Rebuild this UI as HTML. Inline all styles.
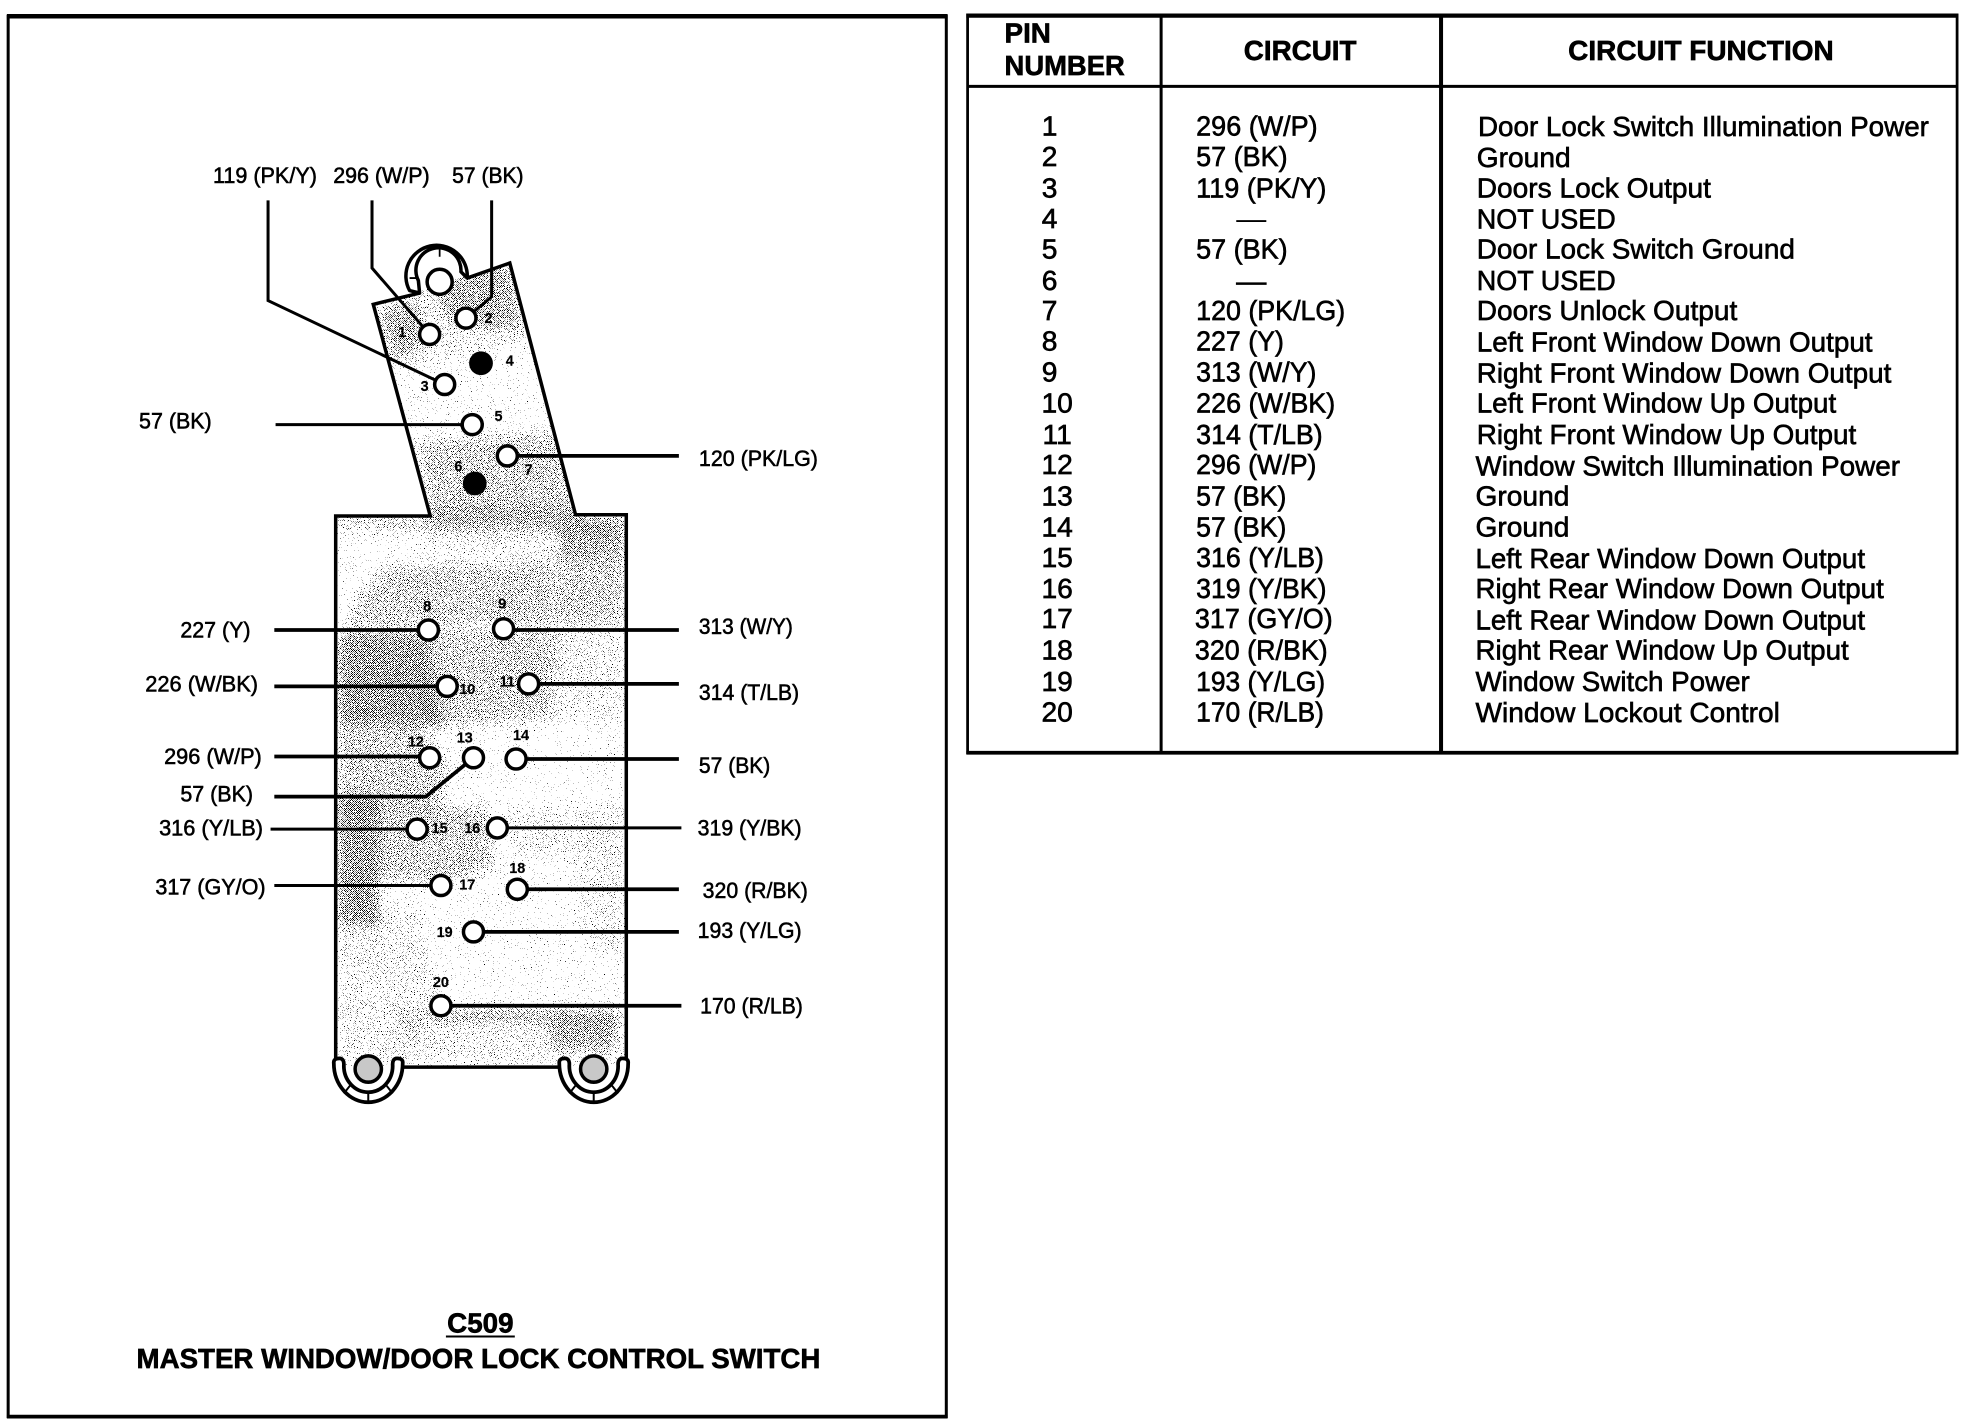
<!DOCTYPE html>
<html><head><meta charset="utf-8"><title>C509</title>
<style>
html,body{margin:0;padding:0;background:#fff;width:1964px;height:1424px;overflow:hidden}
svg{position:absolute;left:0;top:0}
text{font-family:"Liberation Sans",Arial,sans-serif;fill:#000;stroke:#000}
.t{font-size:22.5px;stroke-width:.5px}
.h{font-size:22px;font-weight:bold;stroke-width:.5px}
.l{font-size:18px;stroke-width:.45px}
.p{font-size:11.5px;font-weight:bold;stroke-width:.15px;text-anchor:middle}
.pin{fill:#fff;stroke:#000;stroke-width:2.8}
.w{fill:none;stroke:#000;stroke-width:3}
.n{fill:none;stroke:#000;stroke-width:2.4}
.a{fill-opacity:.11}.b{fill-opacity:.23}.c{fill-opacity:.38}
</style></head><body>
<svg width="1964" height="1424" viewBox="0 0 1964 1424">
<defs>
<pattern id="chk" width="2" height="2" patternUnits="userSpaceOnUse"><rect width="1" height="1" fill="#fff"/><rect x="1" y="1" width="1" height="1" fill="#fff"/></pattern>
<mask id="m" maskUnits="userSpaceOnUse" x="0" y="0" width="1964" height="1424"><rect width="1964" height="1424" fill="url(#chk)" shape-rendering="crispEdges"/></mask>
<clipPath id="body"><polygon points="373,305 510,263 575,515 627,515 627,1066 335,1066 335,516 430,516"/></clipPath>
<filter id="dither" filterUnits="userSpaceOnUse" x="250" y="200" width="460" height="950" color-interpolation-filters="sRGB">
<feGaussianBlur in="SourceAlpha" stdDeviation="6" result="dens"/>
<feTurbulence type="fractalNoise" baseFrequency="0.7" numOctaves="1" seed="7" result="tb"/>
<feColorMatrix in="tb" type="matrix" values="0 0 0 0 0 0 0 0 0 0 0 0 0 0 0 0 0 0 1 0" result="noise"/>
<feComposite in="dens" in2="noise" operator="arithmetic" k1="0" k2="1" k3="1" k4="-1" result="diff"/>
<feComponentTransfer in="diff"><feFuncA type="linear" slope="60" intercept="0"/></feComponentTransfer>
</filter>
</defs>
<g clip-path="url(#body)"><g mask="url(#m)"><g filter="url(#dither)">
<rect x="280" y="220" width="400" height="900" fill-opacity=".3"/>
<polygon class="a" points="375,306 510,263 530,345 440,360 390,370"/>
<polygon class="b" points="425,268 510,263 525,330 450,325"/>
<polygon class="b" points="378,310 420,300 425,345 392,360"/>
<polygon class="b" points="415,440 560,430 580,516 428,516"/>
<polygon class="b" points="335,516 627,516 627,530 335,530"/>
<polygon class="a" points="430,505 575,505 627,530 627,560 420,552"/>
<polygon class="b" points="558,525 625,525 625,625 558,625"/>
<polygon class="b" points="385,565 555,560 558,625 345,628 350,610"/>
<polygon class="c" points="338,632 425,632 440,725 338,725"/>
<polygon class="b" points="425,630 560,630 555,718 430,730"/>
<polygon class="a" points="560,630 625,630 625,720 560,720"/>
<polygon class="b" points="338,725 420,725 450,765 440,810 338,810"/>
<polygon class="c" points="338,800 378,800 380,925 338,925"/>
<polygon class="b" points="378,808 490,805 495,870 440,885 378,880"/>
<polygon class="a" points="500,810 625,805 620,840 520,860"/>
<polygon class="a" points="338,925 420,905 440,1000 400,1062 338,1062"/>
<polygon class="a" points="398,1008 620,1008 620,1062 398,1062"/>
<polygon class="b" points="430,1008 620,1008 620,1022 430,1022"/>
<polygon class="b" points="550,1020 618,1020 618,1050 550,1050"/>
<polygon class="a" points="570,850 625,830 625,960 590,950"/>
</g></g></g>
</svg>
<svg width="1964" height="1424" viewBox="0 0 1568 1136.9">
<!-- frames -->
<path d="M6.5,13 H755.5 V1131 H6.5 Z" fill="none" stroke="#000" stroke-width="2.4"/>
<path d="M5.5,13 H756.5" stroke="#000" stroke-width="3.6"/>
<path d="M5.5,1131 H756.5" stroke="#000" stroke-width="3"/>
<path d="M772.5,12 H1562.5 V601 H772.5 Z" fill="none" stroke="#000" stroke-width="2.2"/>
<path d="M771.5,12.5 H1563.5" stroke="#000" stroke-width="3.4"/>
<path d="M771.5,601 H1563.5" stroke="#000" stroke-width="3"/>
<path d="M772,69 H1562" stroke="#000" stroke-width="2.4"/>
<path d="M927,12 V601" stroke="#000" stroke-width="2.4"/>
<path d="M1150.5,12 V601" stroke="#000" stroke-width="3.2"/>

<!-- connector body -->
<path d="M335,234 L298,243 L343.5,412 H268 V848 M322,852 H449 M500,848 V411 H459.5 L407,210 L373,222" fill="none" stroke="#000" stroke-width="2.8" stroke-linejoin="miter"/>
<!-- top ear -->
<path d="M327,232 A24.5 24.5 0 1 1 373,222 L368,217 A18 18 0 1 0 334,224 L335,234 Z" fill="#fff" stroke="#000" stroke-width="2.8" stroke-linejoin="round"/>
<path d="M327,222 L334,222 M351,198 V205" stroke="#000" stroke-width="1.4"/>
<circle cx="351" cy="225" r="10" fill="#fff" stroke="#000" stroke-width="2.8"/>
<!-- bottom ears -->
<g>
<path d="M266.5,849 A27.5 31 0 0 0 321.5,849 Q322,845 317,845 Q313,845 313.5,851 A19.5 21 0 0 1 274.5,851 Q275,845 271,845 Q266,845 266.5,849 Z" fill="#fff" stroke="#000" stroke-width="3" stroke-linejoin="round"/>
<path d="M294,872 V880 M280,866 L274.5,873 M308,866 L313.5,873" stroke="#000" stroke-width="1.6"/>
<circle cx="294" cy="853.5" r="10.5" fill="#c8c8c8" stroke="#000" stroke-width="2.8"/>
</g>
<g transform="translate(180,0)">
<path d="M266.5,849 A27.5 31 0 0 0 321.5,849 Q322,845 317,845 Q313,845 313.5,851 A19.5 21 0 0 1 274.5,851 Q275,845 271,845 Q266,845 266.5,849 Z" fill="#fff" stroke="#000" stroke-width="3" stroke-linejoin="round"/>
<path d="M294,872 V880 M280,866 L274.5,873 M308,866 L313.5,873" stroke="#000" stroke-width="1.6"/>
<circle cx="294" cy="853.5" r="10.5" fill="#c8c8c8" stroke="#000" stroke-width="2.8"/>
</g>

<!-- wires -->
<path class="n" d="M214,160 V240 L355,307"/>
<path class="n" d="M297,160 V214 L343,267"/>
<path class="n" d="M392.5,160 V237 L372,254"/>
<path class="n" d="M220,339 H377"/>
<path class="w" d="M405,364 H542"/>
<path class="w" d="M219,503 H342"/>
<path class="w" d="M402,503 H542"/>
<path class="w" d="M219,548 H357"/>
<path class="w" d="M422,546 H542"/>
<path class="w" d="M219,604 H343"/>
<path class="w" d="M219,636 H340 L378,605"/>
<path class="w" d="M412,606 H542"/>
<path class="n" d="M216,662 H333"/>
<path class="n" d="M397,661 H544"/>
<path class="n" d="M219,707 H352"/>
<path class="w" d="M413,710 H542"/>
<path class="w" d="M378,744 H542"/>
<path class="w" d="M352,803 H544"/>

<!-- pins -->
<circle class="pin" cx="343" cy="267" r="8"/><circle class="pin" cx="372" cy="254" r="8"/>
<circle class="pin" cx="355" cy="307" r="8"/><circle cx="384" cy="290" r="9.5"/>
<circle class="pin" cx="377" cy="339" r="8"/><circle cx="379" cy="386" r="9.5"/>
<circle class="pin" cx="405" cy="364" r="8"/><circle class="pin" cx="342" cy="503" r="8"/>
<circle class="pin" cx="402" cy="502" r="8"/><circle class="pin" cx="357" cy="548" r="8"/>
<circle class="pin" cx="422" cy="546" r="8"/><circle class="pin" cx="343" cy="605" r="8"/>
<circle class="pin" cx="378" cy="605" r="8"/><circle class="pin" cx="412" cy="606" r="8"/>
<circle class="pin" cx="333" cy="662" r="8"/><circle class="pin" cx="397" cy="661" r="8"/>
<circle class="pin" cx="352" cy="707" r="8"/><circle class="pin" cx="413" cy="710" r="8"/>
<circle class="pin" cx="378" cy="744" r="8"/><circle class="pin" cx="352" cy="803" r="8"/>

<!-- pin labels -->
<text class="p" x="321" y="269">1</text><text class="p" x="390" y="258">2</text>
<text class="p" x="339" y="312">3</text><text class="p" x="407" y="292">4</text>
<text class="p" x="398" y="336">5</text><text class="p" x="366" y="376">6</text>
<text class="p" x="422" y="379">7</text><text class="p" x="341" y="488">8</text>
<text class="p" x="401" y="486">9</text><text class="p" x="373" y="554">10</text>
<text class="p" x="405" y="548">11</text><text class="p" x="332" y="596">12</text>
<text class="p" x="371" y="593">13</text><text class="p" x="416" y="591">14</text>
<text class="p" x="351" y="665">15</text><text class="p" x="377" y="665">16</text>
<text class="p" x="373" y="710">17</text><text class="p" x="413" y="697">18</text>
<text class="p" x="355" y="748">19</text><text class="p" x="352" y="788">20</text>

<!-- wire labels -->
<text class="l" x="170" y="146" textLength="83" lengthAdjust="spacingAndGlyphs">119 (PK/Y)</text>
<text class="l" x="266" y="146" textLength="77" lengthAdjust="spacingAndGlyphs">296 (W/P)</text>
<text class="l" x="361" y="146" textLength="57" lengthAdjust="spacingAndGlyphs">57 (BK)</text>
<text class="l" x="111" y="342" textLength="58" lengthAdjust="spacingAndGlyphs">57 (BK)</text>
<text class="l" x="558" y="372" textLength="95" lengthAdjust="spacingAndGlyphs">120 (PK/LG)</text>
<text class="l" x="144" y="509" textLength="56" lengthAdjust="spacingAndGlyphs">227 (Y)</text>
<text class="l" x="558" y="506" textLength="75" lengthAdjust="spacingAndGlyphs">313 (W/Y)</text>
<text class="l" x="116" y="552" textLength="90" lengthAdjust="spacingAndGlyphs">226 (W/BK)</text>
<text class="l" x="558" y="559" textLength="80" lengthAdjust="spacingAndGlyphs">314 (T/LB)</text>
<text class="l" x="131" y="610" textLength="78" lengthAdjust="spacingAndGlyphs">296 (W/P)</text>
<text class="l" x="144" y="640" textLength="58" lengthAdjust="spacingAndGlyphs">57 (BK)</text>
<text class="l" x="558" y="617" textLength="57" lengthAdjust="spacingAndGlyphs">57 (BK)</text>
<text class="l" x="127" y="667" textLength="83" lengthAdjust="spacingAndGlyphs">316 (Y/LB)</text>
<text class="l" x="557" y="667" textLength="83" lengthAdjust="spacingAndGlyphs">319 (Y/BK)</text>
<text class="l" x="124" y="714" textLength="88" lengthAdjust="spacingAndGlyphs">317 (GY/O)</text>
<text class="l" x="561" y="717" textLength="84" lengthAdjust="spacingAndGlyphs">320 (R/BK)</text>
<text class="l" x="557" y="749" textLength="83" lengthAdjust="spacingAndGlyphs">193 (Y/LG)</text>
<text class="l" x="559" y="809" textLength="82" lengthAdjust="spacingAndGlyphs">170 (R/LB)</text>

<!-- title -->
<text class="h" x="357" y="1064" textLength="53" lengthAdjust="spacingAndGlyphs">C509</text>
<path d="M356,1067 H411" stroke="#000" stroke-width="1.6"/>
<text class="h" x="109" y="1092" textLength="546" lengthAdjust="spacingAndGlyphs">MASTER WINDOW/DOOR LOCK CONTROL SWITCH</text>

<!-- table header -->
<text class="h" x="802" y="34" textLength="37" lengthAdjust="spacingAndGlyphs">PIN</text>
<text class="h" x="802" y="60" textLength="96" lengthAdjust="spacingAndGlyphs">NUMBER</text>
<text class="h" x="993" y="48" textLength="90" lengthAdjust="spacingAndGlyphs">CIRCUIT</text>
<text class="h" x="1252" y="48" textLength="212" lengthAdjust="spacingAndGlyphs">CIRCUIT FUNCTION</text>

<!-- pin numbers -->
<g text-anchor="middle">
<text class="t" x="838" y="108">1</text><text class="t" x="838" y="132.5">2</text>
<text class="t" x="838" y="157.5">3</text><text class="t" x="838" y="182">4</text>
<text class="t" x="838" y="206.5">5</text><text class="t" x="838" y="231.5">6</text>
<text class="t" x="838" y="255.5">7</text><text class="t" x="838" y="280">8</text>
<text class="t" x="838" y="304.5">9</text><text class="t" x="844" y="329.5">10</text>
<text class="t" x="844" y="354.5">11</text><text class="t" x="844" y="378.5">12</text>
<text class="t" x="844" y="403.5">13</text><text class="t" x="844" y="428.5">14</text>
<text class="t" x="844" y="452.5">15</text><text class="t" x="844" y="477.5">16</text>
<text class="t" x="844" y="501.5">17</text><text class="t" x="844" y="526.5">18</text>
<text class="t" x="844" y="551.5">19</text><text class="t" x="844" y="576">20</text>
</g>

<!-- circuits -->
<text class="t" x="955" y="108" textLength="97" lengthAdjust="spacingAndGlyphs">296 (W/P)</text>
<text class="t" x="955" y="132.5" textLength="73" lengthAdjust="spacingAndGlyphs">57 (BK)</text>
<text class="t" x="955" y="157.5" textLength="104" lengthAdjust="spacingAndGlyphs">119 (PK/Y)</text>
<text class="t" x="987" y="182" textLength="24" lengthAdjust="spacingAndGlyphs" style="stroke-width:0">—</text>
<text class="t" x="955" y="206.5" textLength="73" lengthAdjust="spacingAndGlyphs">57 (BK)</text>
<text class="t" x="987" y="232" textLength="24" lengthAdjust="spacingAndGlyphs">—</text>
<text class="t" x="955" y="255.5" textLength="119" lengthAdjust="spacingAndGlyphs">120 (PK/LG)</text>
<text class="t" x="955" y="280" textLength="70" lengthAdjust="spacingAndGlyphs">227 (Y)</text>
<text class="t" x="955" y="304.5" textLength="96" lengthAdjust="spacingAndGlyphs">313 (W/Y)</text>
<text class="t" x="955" y="329.5" textLength="111" lengthAdjust="spacingAndGlyphs">226 (W/BK)</text>
<text class="t" x="955" y="354.5" textLength="101" lengthAdjust="spacingAndGlyphs">314 (T/LB)</text>
<text class="t" x="955" y="378.5" textLength="96" lengthAdjust="spacingAndGlyphs">296 (W/P)</text>
<text class="t" x="955" y="403.5" textLength="72" lengthAdjust="spacingAndGlyphs">57 (BK)</text>
<text class="t" x="955" y="428.5" textLength="72" lengthAdjust="spacingAndGlyphs">57 (BK)</text>
<text class="t" x="955" y="452.5" textLength="102" lengthAdjust="spacingAndGlyphs">316 (Y/LB)</text>
<text class="t" x="955" y="477.5" textLength="104" lengthAdjust="spacingAndGlyphs">319 (Y/BK)</text>
<text class="t" x="954" y="501.5" textLength="110" lengthAdjust="spacingAndGlyphs">317 (GY/O)</text>
<text class="t" x="954" y="526.5" textLength="106" lengthAdjust="spacingAndGlyphs">320 (R/BK)</text>
<text class="t" x="955" y="551.5" textLength="103" lengthAdjust="spacingAndGlyphs">193 (Y/LG)</text>
<text class="t" x="955" y="576" textLength="102" lengthAdjust="spacingAndGlyphs">170 (R/LB)</text>

<!-- functions -->
<text class="t" x="1180" y="108.5" textLength="360" lengthAdjust="spacingAndGlyphs">Door Lock Switch Illumination Power</text>
<text class="t" x="1179" y="133.5" textLength="75" lengthAdjust="spacingAndGlyphs">Ground</text>
<text class="t" x="1179" y="157.5" textLength="187" lengthAdjust="spacingAndGlyphs">Doors Lock Output</text>
<text class="t" x="1179" y="182.5" textLength="111" lengthAdjust="spacingAndGlyphs">NOT USED</text>
<text class="t" x="1179" y="206.5" textLength="254" lengthAdjust="spacingAndGlyphs">Door Lock Switch Ground</text>
<text class="t" x="1179" y="231.5" textLength="111" lengthAdjust="spacingAndGlyphs">NOT USED</text>
<text class="t" x="1179" y="255.5" textLength="208" lengthAdjust="spacingAndGlyphs">Doors Unlock Output</text>
<text class="t" x="1179" y="280.5" textLength="316" lengthAdjust="spacingAndGlyphs">Left Front Window Down Output</text>
<text class="t" x="1179" y="305.5" textLength="331" lengthAdjust="spacingAndGlyphs">Right Front Window Down Output</text>
<text class="t" x="1179" y="329.5" textLength="287" lengthAdjust="spacingAndGlyphs">Left Front Window Up Output</text>
<text class="t" x="1179" y="354.5" textLength="303" lengthAdjust="spacingAndGlyphs">Right Front Window Up Output</text>
<text class="t" x="1178" y="379.5" textLength="339" lengthAdjust="spacingAndGlyphs">Window Switch Illumination Power</text>
<text class="t" x="1178" y="403.5" textLength="75" lengthAdjust="spacingAndGlyphs">Ground</text>
<text class="t" x="1178" y="428.5" textLength="75" lengthAdjust="spacingAndGlyphs">Ground</text>
<text class="t" x="1178" y="453.5" textLength="311" lengthAdjust="spacingAndGlyphs">Left Rear Window Down Output</text>
<text class="t" x="1178" y="477.5" textLength="326" lengthAdjust="spacingAndGlyphs">Right Rear Window Down Output</text>
<text class="t" x="1178" y="502.5" textLength="311" lengthAdjust="spacingAndGlyphs">Left Rear Window Down Output</text>
<text class="t" x="1178" y="526.5" textLength="298" lengthAdjust="spacingAndGlyphs">Right Rear Window Up Output</text>
<text class="t" x="1178" y="551.5" textLength="219" lengthAdjust="spacingAndGlyphs">Window Switch Power</text>
<text class="t" x="1178" y="576.5" textLength="243" lengthAdjust="spacingAndGlyphs">Window Lockout Control</text>
</svg>
</body></html>
